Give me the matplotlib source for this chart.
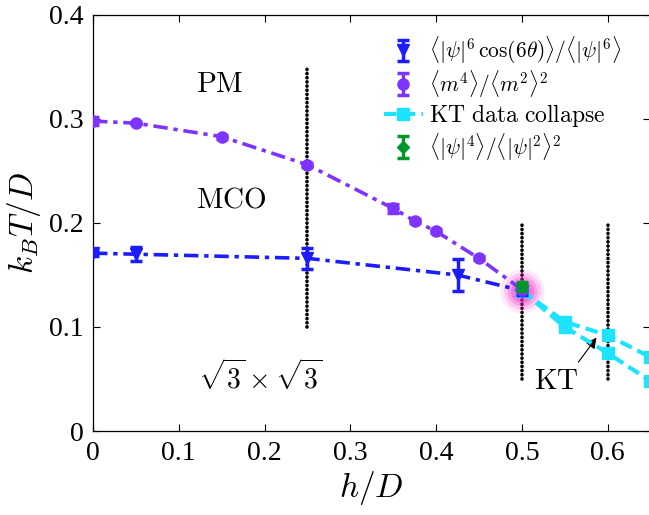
import matplotlib
matplotlib.use('Agg')
import matplotlib.pyplot as plt
import numpy as np

plt.rcParams['mathtext.fontset'] = 'cm'
plt.rcParams['font.family'] = ['Liberation Serif', 'DejaVu Serif']

# <|psi|^6 cos(6 theta)> / <|psi|^6>
h_psi6 = [0.0, 0.05, 0.25, 0.425, 0.5]
T_psi6 = [0.171, 0.170, 0.166, 0.150, 0.135]
e_psi6 = [0.003, 0.007, 0.010, 0.015, 0.004]

# <m^4>/<m^2>^2
h_m4 = [0.0, 0.05, 0.15, 0.25, 0.35, 0.375, 0.4, 0.45, 0.5]
T_m4 = [0.298, 0.296, 0.283, 0.256, 0.214, 0.202, 0.192, 0.166, 0.136]
e_m4 = [0.004, 0.001, 0.002, 0.002, 0.004, 0.002, 0.002, 0.002, 0.002]

# KT data collapse (two estimates)
h_kt = [0.5, 0.55, 0.6, 0.65]
T_kt_up = [0.135, 0.105, 0.092, 0.071]
T_kt_lo = [0.135, 0.100, 0.075, 0.048]

# <|psi|^4>/<|psi|^2>^2
h_psi4 = [0.5]
T_psi4 = [0.139]
e_psi4 = [0.004]

# vertical dotted guide lines: x, ymin, ymax
vlines_x = [0.25, 0.5, 0.6]
vlines_lo = [0.10, 0.05, 0.05]
vlines_hi = [0.35, 0.20, 0.20]

c_blue = '#1c1cff'
c_purple = '#7f33ff'
c_cyan = '#1ee3ff'
c_green = '#00962a'

fig = plt.figure(figsize=(6.49, 5.15), dpi=100)
ax = fig.add_axes([0.1433, 0.1631, 0.859, 0.8078])

dashdot = (0, (4, 1.6, 1.2, 1.6))

for x, lo, hi in zip(vlines_x, vlines_lo, vlines_hi):
    ax.plot([x, x], [lo, hi], color='k', lw=2.6, linestyle=(0, (0.05, 1.1)),
            dash_capstyle='round', zorder=1)

# pink glow at the multicritical point
for s, a in zip([1000, 700, 460, 270, 120], [0.10, 0.16, 0.24, 0.34, 0.45]):
    ax.scatter([0.5], [0.135], s=s, color='#ff22c8', alpha=a, lw=0, zorder=2)

ax.plot(h_m4, T_m4, color=c_purple, lw=2.6, linestyle=dashdot, zorder=3)
ax.plot(h_psi6, T_psi6, color=c_blue, lw=2.6, linestyle=dashdot, zorder=3)

eb_psi6 = ax.errorbar(h_psi6, T_psi6, yerr=e_psi6, fmt='v', color=c_blue, ms=9, lw=2.5,
                      capsize=4, capthick=2.5, zorder=5)
eb_m4 = ax.errorbar(h_m4, T_m4, yerr=e_m4, fmt='o', color=c_purple, ms=8, lw=2.5,
                    capsize=4, capthick=2.5, zorder=5)
ln_kt, = ax.plot(h_kt, T_kt_up, color=c_cyan, lw=3, linestyle=(0, (3, 1.5)), marker='s',
                 ms=8, zorder=4)
ax.plot(h_kt, T_kt_lo, color=c_cyan, lw=3, linestyle=(0, (3, 1.5)), marker='s',
        ms=8, zorder=4)
eb_psi4 = ax.errorbar(h_psi4, T_psi4, yerr=e_psi4, fmt='D', color=c_green, ms=6, lw=2.5,
                      capsize=4, capthick=2.5, zorder=6)

ax.text(0.12, 0.333, r'$\mathrm{PM}$', fontsize=21, ha='left', va='center')
ax.text(0.12, 0.222, r'$\mathrm{MCO}$', fontsize=21, ha='left', va='center')
ax.text(0.123, 0.052, r'$\sqrt{3}\times\sqrt{3}$', fontsize=20, ha='left', va='center')
ax.text(0.54, 0.047, r'$\mathrm{KT}$', fontsize=21, ha='center', va='center')
ax.annotate('', xy=(0.589, 0.092), xytext=(0.564, 0.064),
            arrowprops=dict(arrowstyle='-|>', color='k', lw=0.8, mutation_scale=16))

ax.set_xlim(0, 0.65)
ax.set_ylim(0, 0.4)
ax.set_xticks([0, 0.1, 0.2, 0.3, 0.4, 0.5, 0.6])
ax.set_xticklabels(['0', '0.1', '0.2', '0.3', '0.4', '0.5', '0.6'])
ax.set_yticks([0, 0.1, 0.2, 0.3, 0.4])
ax.set_yticklabels(['0', '0.1', '0.2', '0.3', '0.4'])
ax.tick_params(direction='in', top=True, right=True, length=5, width=0.8,
               labelsize=20, pad=7)
for sp in ax.spines.values():
    sp.set_linewidth(0.9)

ax.set_xlabel(r'$h/D$', fontsize=24, labelpad=2)
ax.set_ylabel(r'$k_BT/D$', fontsize=24, labelpad=4)

handles = [eb_psi6, eb_m4, ln_kt, eb_psi4]
labels = [r'$\langle|\psi|^6\,\cos(6\theta)\rangle/\langle|\psi|^6\rangle$',
          r'$\langle m^4\rangle/\langle m^2\rangle^2$',
          r'$\mathrm{KT\ data\ collapse}$',
          r'$\langle|\psi|^4\rangle/\langle|\psi|^2\rangle^2$']
leg = ax.legend(handles, labels, loc='upper left', bbox_to_anchor=(0.495, 0.99),
                frameon=False, fontsize=15.5, handlelength=1.8, handletextpad=0.3,
                labelspacing=0.1, borderpad=0.2)
leg.get_texts()[2].set_fontsize(17)

fig.savefig('out.png', dpi=100)
